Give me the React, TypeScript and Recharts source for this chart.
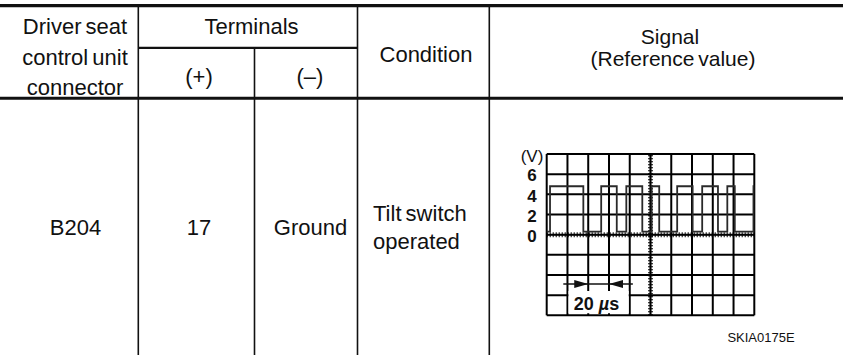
import React from 'react';
import {
  LineChart,
  Line,
  XAxis,
  YAxis,
  CartesianGrid,
  ReferenceLine,
  ReferenceArea,
  ReferenceDot
} from 'recharts';

// scope trace: time of each edge (µs) and the level right after it (V)
const edgeTimes = [0, 3.2, 35.3, 52.5, 67.5, 76.7, 92.1, 101.1, 108.4, 125.7, 140.6, 149.8, 165, 174, 181.2, 199.2, 200];
const edgeVolts = [0.3, 4.8, 0.3, 4.8, 0.3, 4.8, 0.3, 4.8, 0.3, 4.8, 0.3, 4.8, 0.3, 4.8, 0.3, 4.8, 4.8];

const timeTicks = [0, 20, 40, 60, 80, 100, 120, 140, 160, 180, 200];
const voltTicks = [-8, -6, -4, -2, 0, 2, 4, 6, 8];
const voltLabels = [0, 2, 4, 6];

// 20 µs scale marker under the trace
const spanTips = [40, 60];
const spanLine = [16, 83];
const spanVolt = -4.9;
const spanBox = [21, 79, -5.6, -7.8];
const spanText = [48, -6.9];

const signalData = edgeTimes.map((t, i) => ({ t, v: edgeVolts[i] }));

const FONT = "'Liberation Sans', Arial, Helvetica, sans-serif";
const INK = '#111';

const VoltTick = ({ y, payload }: any) => {
  const v = payload.value;
  if (v === 8) {
    return (
      <text x={42} y={y + 2.5} textAnchor="middle" dominantBaseline="central" fontSize={17} fontFamily={FONT} fill={INK}>
        (V)
      </text>
    );
  }
  if (!voltLabels.includes(v)) return <g />;
  return (
    <text x={42} y={y + 1.7} textAnchor="middle" dominantBaseline="central" fontSize={17} fontWeight="bold" fontFamily={FONT} fill={INK}>
      {v}
    </text>
  );
};

const ArrowRight = ({ cx, cy }: any) => (
  <polygon points={`${cx},${cy} ${cx - 14},${cy - 4} ${cx - 14},${cy + 4}`} fill={INK} />
);
const ArrowLeft = ({ cx, cy }: any) => (
  <polygon points={`${cx},${cy} ${cx + 14},${cy - 4} ${cx + 14},${cy + 4}`} fill={INK} />
);
const SpanLabel = ({ cx, cy }: any) => (
  <text x={cx} y={cy} textAnchor="middle" dominantBaseline="central" fontSize={18} fontWeight="bold" fontFamily={FONT} fill={INK}>
    20 <tspan fontStyle="italic">µ</tspan>s
  </text>
);

const Txt = ({ x, y, children, anchor = 'middle', size = 22 }: any) => (
  <text x={x} y={y} textAnchor={anchor} fontSize={size} fontFamily={FONT} fill={INK} wordSpacing={-2}>
    {children}
  </text>
);

const SignalChart = () => (
  <LineChart
    width={280}
    height={190}
    data={signalData}
    margin={{ top: 14, right: 15.7, bottom: 14.7, left: 16.7 }}
  >
    <CartesianGrid stroke="#000" strokeWidth={2} strokeDasharray="0" />
    <XAxis dataKey="t" type="number" domain={[0, 200]} ticks={timeTicks} interval={0} hide />
    <YAxis
      type="number"
      domain={[-8, 8]}
      ticks={voltTicks}
      width={40}
      axisLine={false}
      tickLine={false}
      tick={<VoltTick />}
      interval={0}
    />
    <ReferenceLine x={100} stroke="#000" strokeWidth={1.2} />
    <ReferenceLine x={100} stroke="#000" strokeWidth={5} strokeDasharray="1 2" />
    <ReferenceLine y={0} stroke="#000" strokeWidth={1.2} />
    <ReferenceLine y={0} stroke="#000" strokeWidth={5} strokeDasharray="1 2" />
    <ReferenceArea x1={spanBox[0]} x2={spanBox[1]} y1={spanBox[2]} y2={spanBox[3]} fill="#fff" fillOpacity={1} stroke="none" />
    <ReferenceLine
      segment={[{ x: spanLine[0], y: spanVolt }, { x: spanLine[1], y: spanVolt }]}
      stroke={INK}
      strokeWidth={1.5}
    />
    <ReferenceDot x={spanTips[0]} y={spanVolt} shape={<ArrowRight />} />
    <ReferenceDot x={spanTips[1]} y={spanVolt} shape={<ArrowLeft />} />
    <ReferenceDot x={spanText[0]} y={spanText[1]} shape={<SpanLabel />} />
    <Line
      dataKey="v"
      type="stepAfter"
      stroke="#2a2a2a"
      strokeWidth={1.8}
      dot={false}
      isAnimationActive={false}
    />
  </LineChart>
);

export default function App() {
  return (
    <div style={{ position: 'absolute', left: 0, top: 0, width: 843, height: 355, background: '#fff', overflow: 'hidden' }}>
      <svg width={843} height={355} style={{ position: 'absolute', left: 0, top: 0 }}>
        <g stroke={INK} fill="none">
          <line x1={0} x2={843} y1={5.6} y2={5.6} strokeWidth={3.2} />
          <line x1={0} x2={843} y1={98.2} y2={98.2} strokeWidth={3} />
          <line x1={138.3} x2={357.5} y1={47.9} y2={47.9} strokeWidth={2.4} />
          <line x1={138.3} x2={138.3} y1={7} y2={355} strokeWidth={1.6} />
          <line x1={254.5} x2={254.5} y1={48} y2={355} strokeWidth={1.6} />
          <line x1={357.5} x2={357.5} y1={7} y2={355} strokeWidth={1.6} />
          <line x1={489.3} x2={489.3} y1={7} y2={355} strokeWidth={1.6} />
        </g>
        <Txt x={75} y={33.5}>Driver seat</Txt>
        <Txt x={75} y={64.5}>control unit</Txt>
        <Txt x={75} y={95}>connector</Txt>
        <Txt x={251.5} y={33.5}>Terminals</Txt>
        <Txt x={199} y={84}>(+)</Txt>
        <Txt x={310} y={84}>(–)</Txt>
        <Txt x={426} y={61.5}>Condition</Txt>
        <Txt x={670} y={44} size={21}>Signal</Txt>
        <Txt x={673} y={66} size={21}>(Reference value)</Txt>
        <Txt x={75.5} y={235}>B204</Txt>
        <Txt x={199} y={235}>17</Txt>
        <Txt x={310.5} y={235}>Ground</Txt>
        <Txt x={373} y={221} anchor="start">Tilt switch</Txt>
        <Txt x={373} y={248.5} anchor="start">operated</Txt>
        <Txt x={761} y={342} size={13}>SKIA0175E</Txt>
      </svg>
      <div style={{ position: 'absolute', left: 490, top: 140 }}>
        <SignalChart />
      </div>
    </div>
  );
}
